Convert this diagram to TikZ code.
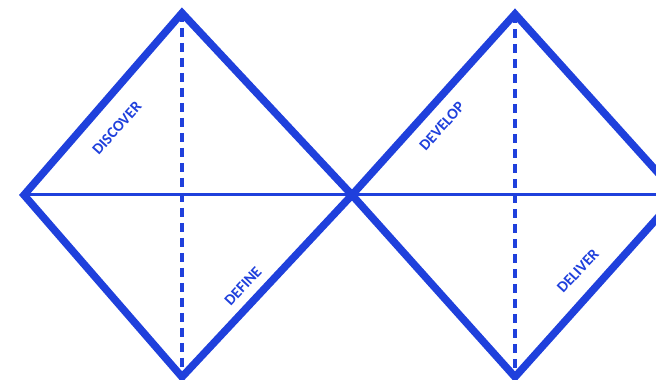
\documentclass[tikz,border=0pt]{standalone}
\usepackage{fontspec}
\setsansfont{Carlito}
\definecolor{ddblue}{RGB}{31,64,220}
\tikzset{
  phase/.style={text=ddblue, font=\sffamily\bfseries\fontsize{15.5}{15.5}\selectfont, inner sep=0pt}
}

\begin{document}
\begin{tikzpicture}[x=1pt,y=1pt]
  \clip (0,0) rectangle (656,380);
  \coordinate (left)  at (24,185);
  \coordinate (top1)  at (182,367);
  \coordinate (mid)   at (352,185);
  \coordinate (bot1)  at (182,3);
  \coordinate (top2)  at (515,366);
  \coordinate (bot2)  at (515,3);
  \coordinate (right) at (678,185);
  \draw[ddblue, line width=3pt] (left) -- (right);
  \draw[ddblue, line width=3.2pt, dash pattern=on 9pt off 6pt] (top1) -- (bot1);
  \draw[ddblue, line width=3.2pt, dash pattern=on 9pt off 6pt] (top2) -- (bot2);
  \draw[ddblue, line width=7.5pt] (left) -- (top1) -- (mid) -- (bot1) -- cycle;
  \draw[ddblue, line width=7.5pt] (mid) -- (top2) -- (right) -- (bot2) -- cycle;
  \node[phase, rotate=48] (discover) at (117,252) {DISCOVER};
  \node[phase, rotate=47] (define)   at (243,94)  {DEFINE};
  \node[phase, rotate=48] (develop)  at (442,254) {DEVELOP};
  \node[phase, rotate=47] (deliver)  at (578,109) {DELIVER};
\end{tikzpicture}
\end{document}
